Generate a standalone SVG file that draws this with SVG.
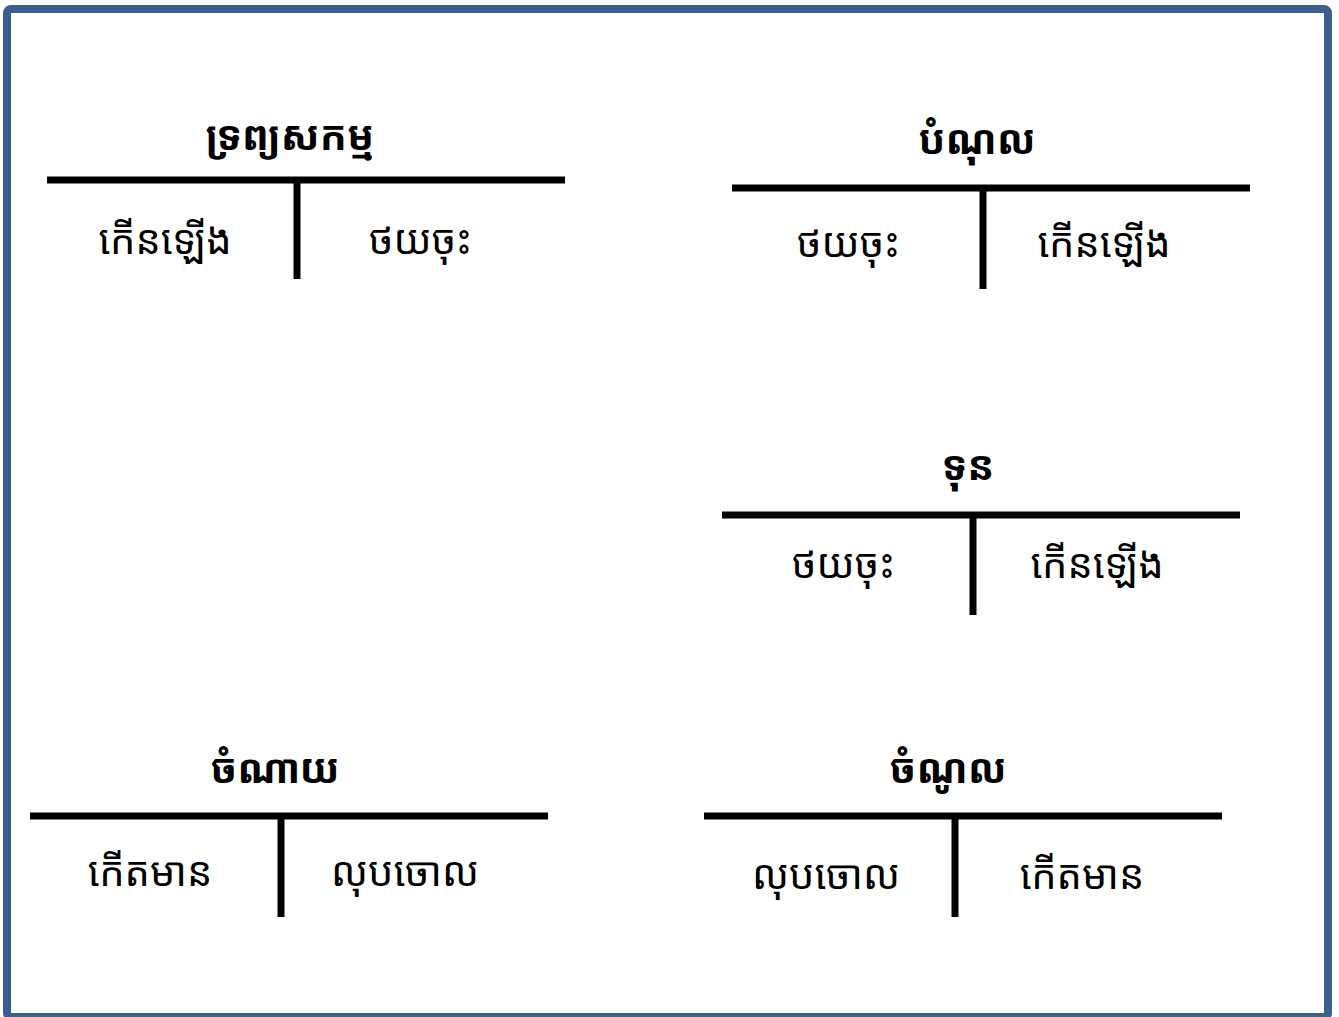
<svg xmlns="http://www.w3.org/2000/svg" width="1339" height="1017" viewBox="0 0 1339 1017">
<style>
.t{font-family:"Noto Sans Khmer","Khmer OS","Noto Sans","DejaVu Sans",sans-serif;font-size:40px;font-weight:bold;text-anchor:middle;fill:#000}
.l{font-family:"Noto Sans Khmer","Khmer OS","Noto Sans","DejaVu Sans",sans-serif;font-size:40px;text-anchor:middle;fill:#000}
.h{stroke:#000;stroke-width:7}
</style>
<rect x="0" y="0" width="1339" height="1017" fill="#fff"/>
<rect x="7" y="9" width="1321" height="1008" rx="4" fill="none" stroke="#3A5F8F" stroke-width="8"/>
<g id="assets">
<text class="t" x="290" y="150">ទ្រព្យសកម្ម</text>
<line class="h" x1="47" y1="180" x2="565" y2="180"/>
<line class="h" x1="297" y1="180" x2="297" y2="279"/>
<text class="l" x="165" y="254">កើនឡើង</text>
<text class="l" x="420" y="254">ថយចុះ</text>
</g>
<g id="liabilities">
<text class="t" x="977" y="154">បំណុល</text>
<line class="h" x1="732" y1="188" x2="1250" y2="188"/>
<line class="h" x1="983" y1="188" x2="983" y2="289"/>
<text class="l" x="848" y="257">ថយចុះ</text>
<text class="l" x="1104" y="257">កើនឡើង</text>
</g>
<g id="capital">
<text class="t" x="968" y="480">ទុន</text>
<line class="h" x1="722" y1="515" x2="1240" y2="515"/>
<line class="h" x1="973" y1="515" x2="973" y2="615"/>
<text class="l" x="843" y="578">ថយចុះ</text>
<text class="l" x="1097" y="578">កើនឡើង</text>
</g>
<g id="expense">
<text class="t" x="275" y="783">ចំណាយ</text>
<line class="h" x1="30" y1="816" x2="548" y2="816"/>
<line class="h" x1="281" y1="816" x2="281" y2="917"/>
<text class="l" x="150" y="886">កើតមាន</text>
<text class="l" x="405" y="886">លុបចោល</text>
</g>
<g id="income">
<text class="t" x="948" y="783">ចំណូល</text>
<line class="h" x1="704" y1="816" x2="1222" y2="816"/>
<line class="h" x1="955" y1="816" x2="955" y2="917"/>
<text class="l" x="826" y="889">លុបចោល</text>
<text class="l" x="1082" y="889">កើតមាន</text>
</g>
<g id="connectors"/>
</svg>
